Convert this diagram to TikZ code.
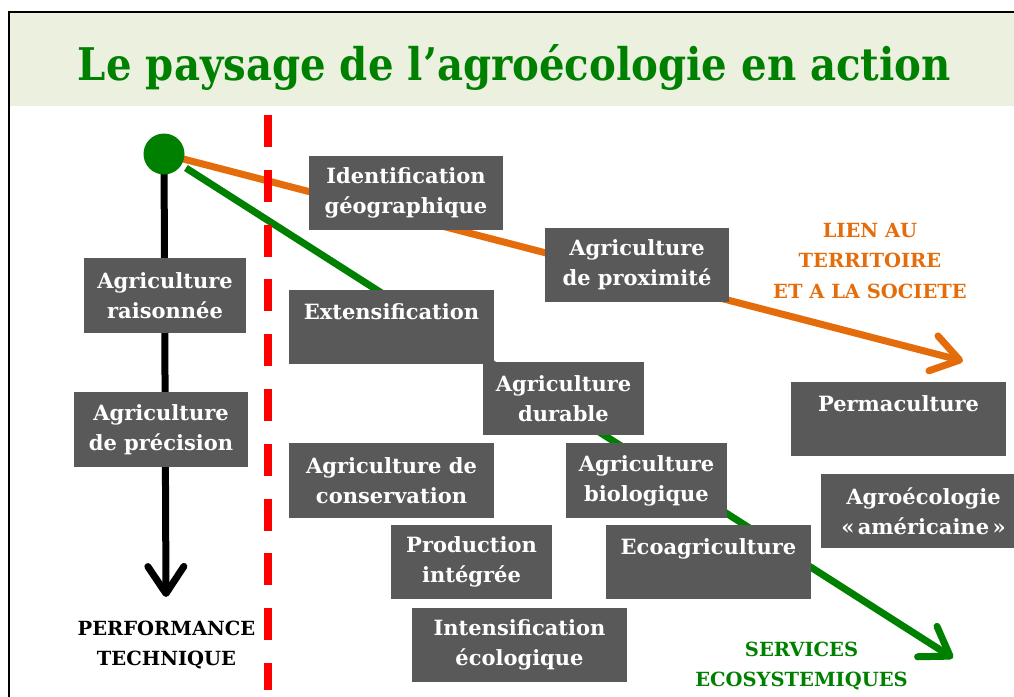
\documentclass[tikz,border=0pt]{standalone}
\usepackage{fontspec}
\usepackage{graphicx}
\setmainfont{DejaVu Serif}
\usetikzlibrary{arrows.meta}
\definecolor{boxgray}{HTML}{595959}
\definecolor{agreen}{HTML}{008000}
\definecolor{aorange}{HTML}{E46C0A}
\definecolor{bandgreen}{HTML}{EBF0DF}
\definecolor{dashred}{HTML}{FF0000}
\pgfdeclarelayer{bandlayer}
\pgfdeclarelayer{linelayer}
\pgfsetlayers{bandlayer,linelayer,main}
\tikzset{
  stagebox/.style={fill=boxgray, text=white, inner sep=0pt, align=center,
    font=\fontsize{21}{30}\selectfont\bfseries},
  caption/.style={inner sep=0pt, align=center, font=\fontsize{19.5}{30.5}\selectfont\bfseries},
  barb/.style={-{Straight Barb[length=27pt,width=36pt,round]}},
  axisline/.style={line width=7pt, barb},
}
\begin{document}
\begin{tikzpicture}[x=1pt,y=-1pt]
\useasboundingbox (0,0) rectangle (1014,696);
\clip (0,0) rectangle (1014,696);
\begin{pgfonlayer}{bandlayer}
\fill[bandgreen] (10,13) rectangle (1020,106);
\draw[line width=2pt] (9,710) -- (9,12) -- (1030,12);
\end{pgfonlayer}
\node[anchor=base, inner sep=0pt, text=agreen, font=\fontsize{45}{50}\selectfont\bfseries] (title) at (514.5,80)
  {\resizebox{873pt}{\height}{Le paysage de l’agroécologie en action}};
% origin
\node[circle, fill=agreen, minimum size=41pt, inner sep=0pt] (origin) at (164,154) {};
\coordinate (tipT) at (963,361);
\coordinate (tipS) at (953,658);
\coordinate (tipP) at (166,597);
\begin{pgfonlayer}{linelayer}
\draw[axisline, draw=aorange] (origin.center) -- (tipT);
\draw[axisline, draw=agreen, shorten <=26pt] (origin.center) -- (tipS);
\draw[axisline, draw=black] (origin.center) -- (tipP);
\end{pgfonlayer}
% separator
\coordinate (sepTop) at (268,115);
\coordinate (sepBot) at (268,690);
\draw[dashred, line width=8pt, dash pattern=on 32pt off 22.8pt] (sepTop) -- (sepBot);
% boxes
\node[stagebox, minimum width=194pt, minimum height=74pt] (ident) at (406,193) {Identification\\géographique};
\node[stagebox, minimum width=184pt, minimum height=74pt] (prox) at (637,265) {Agriculture\\de proximité};
\node[stagebox, minimum width=162pt, minimum height=75pt] (rais) at (165,295.5) {Agriculture\\raisonnée};
\node[stagebox, minimum width=174pt, minimum height=75pt] (prec) at (161,429.5) {Agriculture\\de précision};
\node[stagebox, minimum width=205pt, minimum height=74pt] (ext) at (391.5,327) {Extensification\\\mbox{}};
\node[stagebox, minimum width=161pt, minimum height=73pt] (dur) at (563.5,398.5) {Agriculture\\durable};
\node[stagebox, minimum width=205pt, minimum height=75pt] (cons) at (391.5,480.5) {Agriculture de\\conservation};
\node[stagebox, minimum width=161pt, minimum height=74pt] (prod) at (471.5,562) {Production\\intégrée};
\node[stagebox, minimum width=215pt, minimum height=74pt] (intens) at (519.5,645) {Intensification\\écologique};
\node[stagebox, minimum width=161pt, minimum height=75pt] (bio) at (646.5,480.5) {Agriculture\\biologique};
\node[stagebox, minimum width=205pt, minimum height=74pt] (eco) at (708.5,562) {Ecoagriculture\\\mbox{}};
\node[stagebox, minimum width=215pt, minimum height=74pt] (perma) at (898.5,419) {Permaculture\\\mbox{}};
\node[stagebox, minimum width=205pt, minimum height=74pt] (agro) at (923.5,511) {Agroécologie\\«\,américaine\,»};
% captions
\node[caption, text=black] (perf) at (166.5,645) {PERFORMANCE\\TECHNIQUE};
\node[caption, text=aorange] (lien) at (870,261) {LIEN AU\\TERRITOIRE\\ET A LA SOCIETE};
\node[caption, text=agreen] (serv) at (801.5,666) {SERVICES\\ECOSYSTEMIQUES};
\end{tikzpicture}
\end{document}
